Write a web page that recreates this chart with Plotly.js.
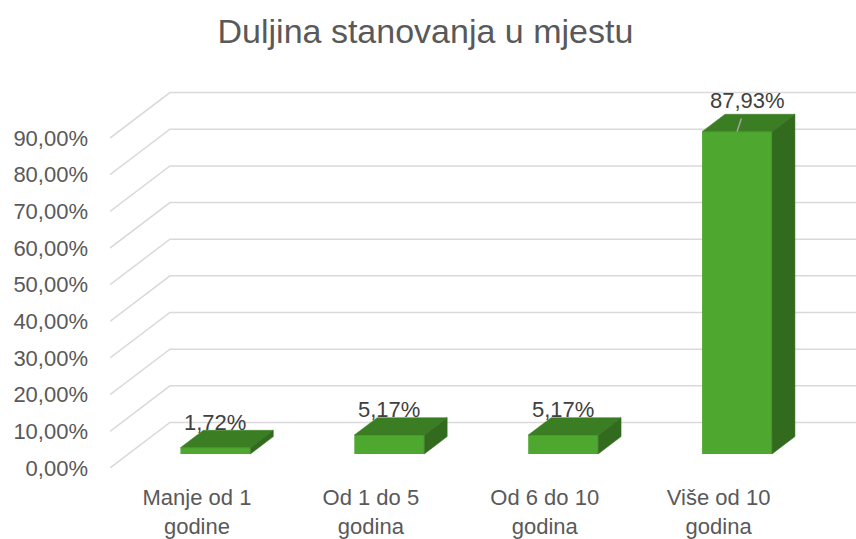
<!DOCTYPE html>
<html>
<head>
<meta charset="utf-8">
<script src="https://cdn.plot.ly/plotly-3.0.1.min.js"></script>
<style>html,body{margin:0;padding:0;background:#fff;}#chart{width:856px;height:539px;}</style>
</head>
<body>
<div id="chart"></div>
<script>
// ---- data ----
const categories = ["Manje od 1<br>godine", "Od 1 do 5<br>godina", "Od 6 do 10<br>godina", "Više od 10<br>godina"];
const values = [0.0172, 0.0517, 0.0517, 0.8793];
const tickVals = [0, 0.1, 0.2, 0.3, 0.4, 0.5, 0.6, 0.7, 0.8, 0.9];
const chartTitle = "Duljina stanovanja u mjestu";

// ---- pseudo-3D geometry (in axis units) ----
const W = 856, H = 539;
const M = {l: 109.5, r: 0, t: 70, b: 71};
const pxPerCat = 174, pxPerUnit = 366.6;
const xMin = -0.5, xMax = xMin + (W - M.l - M.r) / pxPerCat;
const yMax = (H - M.t - M.b) / pxPerUnit;
const DX = 60 / pxPerCat, DY = 45.5 / pxPerUnit;        // full depth of the wall
const f0 = 0.308, fd = 0.382;                            // bar front depth & bar depth (fractions)
const BFX = DX * f0, BFY = DY * f0, BDX = DX * fd, BDY = DY * fd;
const BW = 70 / pxPerCat;

const FRONT = "#4ea72e", TOP = "#3b7d23", SIDE = "#326b1e";
const TXT = "#595959";
const FONT = "Liberation Sans, Arial, sans-serif";

const idx = values.map((_, i) => i);

// gridlines (back wall + side wall) as shapes below traces
const shapes = tickVals.map(v => ({
  type: "path", xref: "x", yref: "y", layer: "below",
  path: `M ${xMin} ${v} L ${xMin + DX} ${v + DY} L ${xMax} ${v + DY}`,
  line: {color: "#d9d9d9", width: 1.5}
}));

const traces = [];
// front faces
traces.push({
  type: "bar", x: idx.map(i => i + BFX), y: values, base: BFY, width: BW,
  marker: {color: FRONT, line: {width: 0}}, hoverinfo: "skip"
});
// top and side faces
values.forEach((v, i) => {
  const xl = i + BFX - BW / 2, xr = i + BFX + BW / 2, yb = BFY, yt = BFY + v;
  traces.push({
    type: "scatter", mode: "lines", fill: "toself", fillcolor: TOP,
    x: [xl, xr, xr + BDX, xl + BDX, xl], y: [yt, yt, yt + BDY, yt + BDY, yt],
    line: {color: TOP, width: 0.5}, hoverinfo: "skip"
  });
  traces.push({
    type: "scatter", mode: "lines", fill: "toself", fillcolor: SIDE,
    x: [xr, xr, xr + BDX, xr + BDX, xr], y: [yb, yt, yt + BDY, yb + BDY, yb],
    line: {color: SIDE, width: 0.5}, hoverinfo: "skip"
  });
});

const fmt = v => (v * 100).toFixed(2).replace(".", ",") + "%";
const annotations = values.map((v, i) => {
  if (v > 0.5) {
    return {
      x: i + BFX, y: BFY + v, xref: "x", yref: "y", text: fmt(v),
      showarrow: true, arrowhead: 0, arrowwidth: 1.5, arrowcolor: "#a6a6a6",
      ax: 10, ay: -31, startstandoff: 4,
      font: {family: FONT, size: 22, color: "#404040"}
    };
  }
  return {
    x: i + BFX, y: BFY + v + BDY, xref: "x", yref: "y", text: fmt(v),
    showarrow: false, yanchor: "middle", yshift: 8,
    font: {family: FONT, size: 22, color: "#404040"}
  };
});

const layout = {
  width: W, height: H, margin: M,
  paper_bgcolor: "#fff", plot_bgcolor: "rgba(0,0,0,0)",
  separators: ",.",
  showlegend: false, hovermode: false,
  title: {text: chartTitle, x: 0.497, xref: "container", y: 0.942, yref: "container",
          xanchor: "center", yanchor: "middle",
          font: {family: FONT, size: 34, color: TXT}},
  xaxis: {range: [xMin, xMax], showgrid: false, zeroline: false, showline: false,
          tickvals: idx, ticktext: categories, ticks: "", ticklabelstandoff: 14,
          tickfont: {family: FONT, size: 22, color: TXT}},
  yaxis: {range: [0, yMax], showgrid: false, zeroline: false, showline: false,
          tickvals: tickVals, tickformat: ".2%", ticks: "", ticklabelstandoff: 21,
          tickfont: {family: FONT, size: 22, color: TXT}},
  shapes: shapes, annotations: annotations
};

Plotly.newPlot("chart", traces, layout, {staticPlot: true, displayModeBar: false});
</script>
</body>
</html>
